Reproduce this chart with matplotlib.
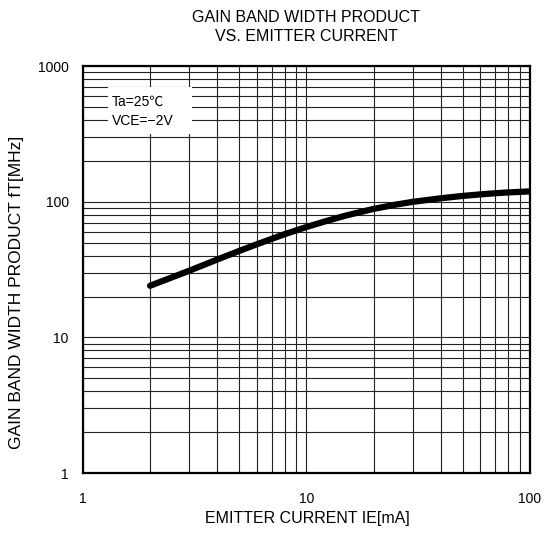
import matplotlib
matplotlib.use("Agg")
import matplotlib.pyplot as plt
from matplotlib.ticker import LogLocator, NullFormatter, FuncFormatter
from matplotlib.patches import Rectangle

plt.rcParams['font.family'] = ['Liberation Sans', 'Noto Sans CJK JP', 'DejaVu Sans']

# emitter current IE [mA] and gain band width product fT [MHz]
ie_ma = [2, 3, 4, 5, 6, 7, 8, 10, 12, 15, 20, 25, 30, 40, 50, 60, 70, 80, 100]
ft_mhz = [24, 31, 37.5, 43.3, 48.5, 53.2, 57.6, 65, 71.2, 79, 88.5, 95,
          99.8, 106, 110.2, 113.2, 115.4, 117, 119]

title = "GAIN BAND WIDTH PRODUCT\nVS. EMITTER CURRENT"
xlabel = "EMITTER CURRENT IE[mA]"
ylabel = "GAIN BAND WIDTH PRODUCT fT[MHz]"
conditions = ["Ta=25℃", "VCE=−2V"]

fig = plt.figure(figsize=(5.46, 5.34), dpi=100)
ax = fig.add_axes([0.1515, 0.1142, 0.8192, 0.7622])

ax.set_xscale('log')
ax.set_yscale('log')
ax.set_xlim(1, 100)
ax.set_ylim(1, 1000)

for axis in (ax.xaxis, ax.yaxis):
    axis.set_major_locator(LogLocator(base=10))
    axis.set_minor_locator(LogLocator(base=10, subs=range(2, 10)))
    axis.set_minor_formatter(NullFormatter())
    axis.set_major_formatter(FuncFormatter(lambda v, p: f"{v:g}"))

ax.grid(True, which='both', color='#222222', linewidth=0.8)
ax.set_axisbelow(True)
ax.tick_params(which='both', length=0, labelsize=10)
ax.tick_params(axis='x', pad=13.5)
ax.tick_params(axis='y', pad=10)
for s in ax.spines.values():
    s.set_linewidth(1.6)
    s.set_color('black')

ax.plot(ie_ma, ft_mhz, color='black', linewidth=4.5,
        solid_capstyle='round', solid_joinstyle='round', zorder=5)

# white box with the test conditions
ax.add_patch(Rectangle((0.056, 0.833), 0.189, 0.116, transform=ax.transAxes,
                       facecolor='white', edgecolor='none', zorder=3))
ax.text(0.065, 0.911, conditions[0], transform=ax.transAxes, fontsize=10,
        ha='left', va='center', zorder=4)
ax.text(0.065, 0.865, conditions[1], transform=ax.transAxes, fontsize=10,
        ha='left', va='center', zorder=4)

fig.text(306 / 546, 1 - 27 / 534, title, ha='center', va='center',
         fontsize=11.5, linespacing=1.35)
fig.text(307 / 546, 1 - 519 / 534, xlabel, ha='center', va='center', fontsize=11.5)
fig.text(17 / 546, 1 - 292 / 534, ylabel, ha='center', va='center',
         fontsize=12.5, rotation=90)

fig.savefig("out.png", dpi=100)
